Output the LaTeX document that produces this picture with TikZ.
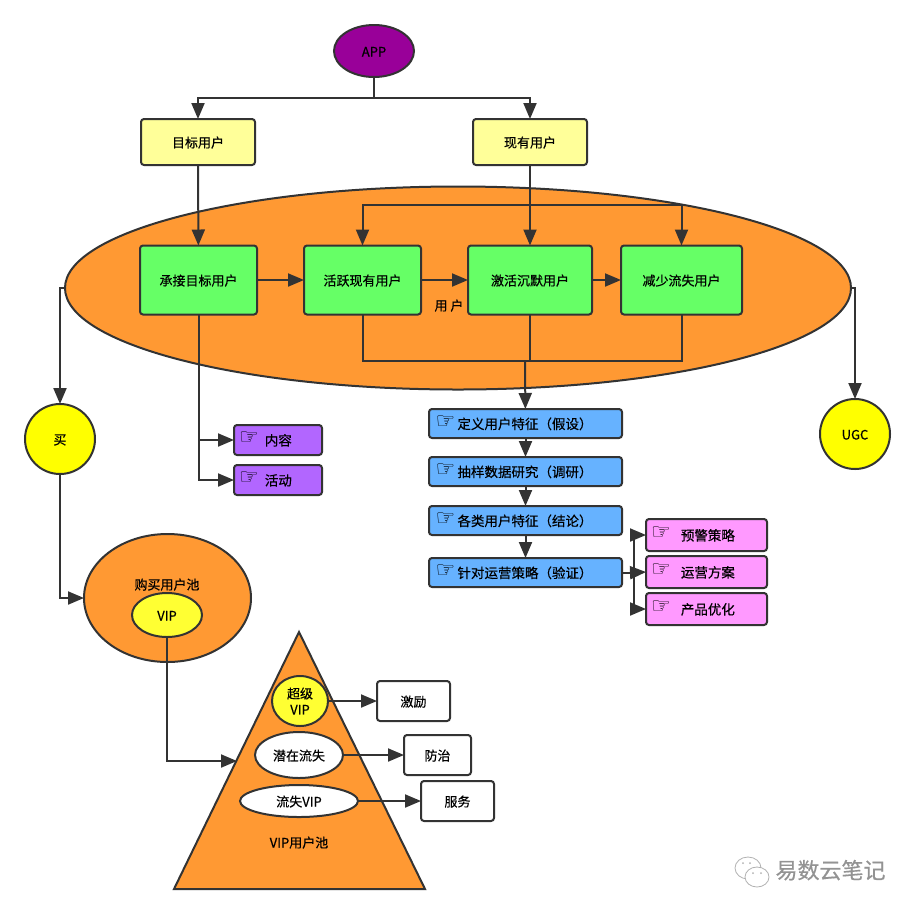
\documentclass[tikz,border=0pt]{standalone}
\usepackage{fontspec}
\setmainfont{Noto Sans CJK SC}[FakeBold=0.5]
\newfontfamily\handfont{DejaVu Sans}
\usetikzlibrary{arrows.meta,shapes.geometric}
\definecolor{linedark}{HTML}{333333}
\definecolor{poolorange}{HTML}{FF9933}
\definecolor{apppurple}{HTML}{990099}
\definecolor{paleyellow}{HTML}{FFFF99}
\definecolor{vipyellow}{HTML}{FFFF33}
\definecolor{brightyellow}{HTML}{FFFF00}
\definecolor{stepgreen}{HTML}{66FF66}
\definecolor{stepblue}{HTML}{66B2FF}
\definecolor{steppink}{HTML}{FF99FF}
\definecolor{stepviolet}{HTML}{B266FF}
\newcommand{\handmark}{\raisebox{1pt}[0pt][0pt]{\handfont\fontsize{22}{22}\selectfont ☞}}
\tikzset{
  every node/.append style={text height=11pt,text depth=0pt},
  boxbase/.style={draw=linedark,line width=2pt,rounded corners=3pt,inner sep=0pt,outer sep=0pt,align=center},
  roundbase/.style={ellipse,draw=linedark,line width=2pt,inner sep=0pt,outer sep=0pt,align=center},
  yellowbox/.style={boxbase,fill=paleyellow,minimum width=114pt,minimum height=46pt},
  greenbox/.style={boxbase,fill=stepgreen,minimum height=69pt},
  bluebox/.style={boxbase,fill=stepblue,minimum width=193pt,minimum height=29pt,font=\fontsize{13.5}{16}\selectfont},
  pinkbox/.style={boxbase,fill=steppink,minimum width=121pt,minimum height=32pt,font=\fontsize{13.5}{16}\selectfont},
  violetbox/.style={boxbase,fill=stepviolet,minimum width=88pt,minimum height=30pt,font=\fontsize{13.5}{16}\selectfont},
  whitebox/.style={boxbase,fill=white,minimum height=40pt},
  link/.style={draw=linedark,line width=2pt,-{Triangle[length=16pt,width=13pt]}},
  plainlink/.style={draw=linedark,line width=2pt}
}
\begin{document}
\begin{tikzpicture}[x=1pt,y=-1pt,font=\fontsize{13}{16}\selectfont]
\useasboundingbox (0,0) rectangle (915,914);
\node[roundbase,fill=poolorange,minimum width=786pt,minimum height=203pt] (userpool) at (458,288) {};
\node at (449,305) {用 户};
\node[roundbase,fill=apppurple,minimum width=80pt,minimum height=52pt] (app) at (374,51) {APP};
\node[yellowbox] (target) at (198,142) {目标用户};
\node[yellowbox] (current) at (530,142) {现有用户};
\node[greenbox,minimum width=117pt] (accept) at (198.5,280) {承接目标用户};
\node[greenbox,minimum width=117pt] (active) at (362.5,280) {活跃现有用户};
\node[greenbox,minimum width=124pt] (revive) at (530,280) {激活沉默用户};
\node[greenbox,minimum width=121pt] (reduce) at (681.5,280) {减少流失用户};
\draw[link] (app.south) -- (374,98) -| (target.north);
\draw[link] (app.south) -- (374,98) -| (current.north);
\draw[link] (target) -- (accept);
\draw[link] (current) -- (revive);
\draw[link] (accept) -- (active);
\draw[link] (active) -- (revive);
\draw[link] (revive) -- (reduce);
\draw[link] (530,205) -| (active.north);
\draw[link] (530,205) -| (reduce.north);
\coordinate (merge) at (525,361);
\draw[plainlink] (active.south) |- (merge);
\draw[plainlink] (reduce.south) |- (merge);
\draw[plainlink] (revive.south) -- (530,361);
\node[bluebox] (define) at (525.5,423.5) {\handmark\,定义用户特征（假设）\hspace{23pt}};
\node[bluebox] (sample) at (525.5,471.5) {\handmark\,抽样数据研究（调研）\hspace{23pt}};
\node[bluebox] (classes) at (525.5,520.5) {\handmark\,各类用户特征（结论）\hspace{23pt}};
\node[bluebox] (verify) at (525.5,572.5) {\handmark\,针对运营策略（验证）\hspace{23pt}};
\draw[link] (merge) -- (define);
\draw[link] (define) -- (sample);
\draw[link] (sample) -- (classes);
\draw[link] (classes) -- (verify);
\node[pinkbox] (warn) at (706.5,535) {\handmark\hspace{10pt}预警策略\hspace{27pt}};
\node[pinkbox] (plan) at (706.5,572) {\handmark\hspace{10pt}运营方案\hspace{27pt}};
\node[pinkbox] (product) at (706.5,609) {\handmark\hspace{10pt}产品优化\hspace{27pt}};
\coordinate (fork) at (634,572.5);
\draw[plainlink] (verify.east) -- (fork);
\draw[link] (fork) |- (warn.west);
\draw[link] (fork) -- (plan.west);
\draw[link] (fork) |- (product.west);
\node[violetbox] (content) at (278,440) {\handmark\hspace{6pt}内容\hspace{25pt}};
\node[violetbox] (event) at (278,480) {\handmark\hspace{6pt}活动\hspace{25pt}};
\draw[link] (accept.south) |- (content.west);
\draw[link] (accept.south) |- (event.west);
\node[roundbase,fill=brightyellow,minimum width=70pt,minimum height=70pt] (buy) at (60,439) {买};
\node[roundbase,fill=brightyellow,minimum width=70pt,minimum height=70pt] (ugc) at (855,434) {UGC};
\draw[link] (userpool.west) -| (buy.north);
\draw[link] (userpool.east) -| (ugc.north);
\node[roundbase,fill=poolorange,minimum width=167pt,minimum height=128pt] (buypool) at (167.5,598) {};
\node (buylabel) at (167,584) {购买用户池};
\node[roundbase,fill=vipyellow,minimum width=70pt,minimum height=44pt] (vip) at (167,615) {VIP};
\draw[link] (buy.south) |- (buypool.west);
\coordinate (apex) at (299,632);
\coordinate (baseleft) at (174,889);
\coordinate (baseright) at (425,889);
\draw[draw=linedark,line width=2pt,fill=poolorange,line join=miter] (apex) -- (baseright) -- (baseleft) -- cycle;
\coordinate (vipin) at (237,761);
\draw[link] (vip.south) |- (vipin);
\node[roundbase,fill=vipyellow,minimum width=56pt,minimum height=50pt,text height=,text depth=0pt] (super) at (300,701) {超级\\VIP};
\node[roundbase,fill=white,minimum width=88pt,minimum height=46pt] (risk) at (299,755) {潜在流失};
\node[roundbase,fill=white,minimum width=118pt,minimum height=32pt] (lost) at (299,801) {流失VIP};
\node (vippool) at (299,842) {VIP用户池};
\node[whitebox,minimum width=73pt] (reward) at (413.5,701) {激励};
\node[whitebox,minimum width=67pt] (prevent) at (437.5,755) {防治};
\node[whitebox,minimum width=73pt] (service) at (457.5,801) {服务};
\draw[link] (super) -- (reward);
\draw[link] (risk) -- (prevent);
\draw[link] (lost) -- (service);
% watermark
\draw[gray!60,fill=white,line width=.8pt] (748,868) ellipse (13 and 11);
\draw[gray!60,fill=white,line width=.8pt] (757,877) ellipse (12 and 10);
\fill[gray!60] (743,863) circle (1) (750,863) circle (1) (753,873) circle (1) (761,873) circle (1);
\node[text=gray!85,font=\fontsize{22}{24}\selectfont] (mark) at (830.5,873) {易数云笔记};
\end{tikzpicture}
\end{document}
